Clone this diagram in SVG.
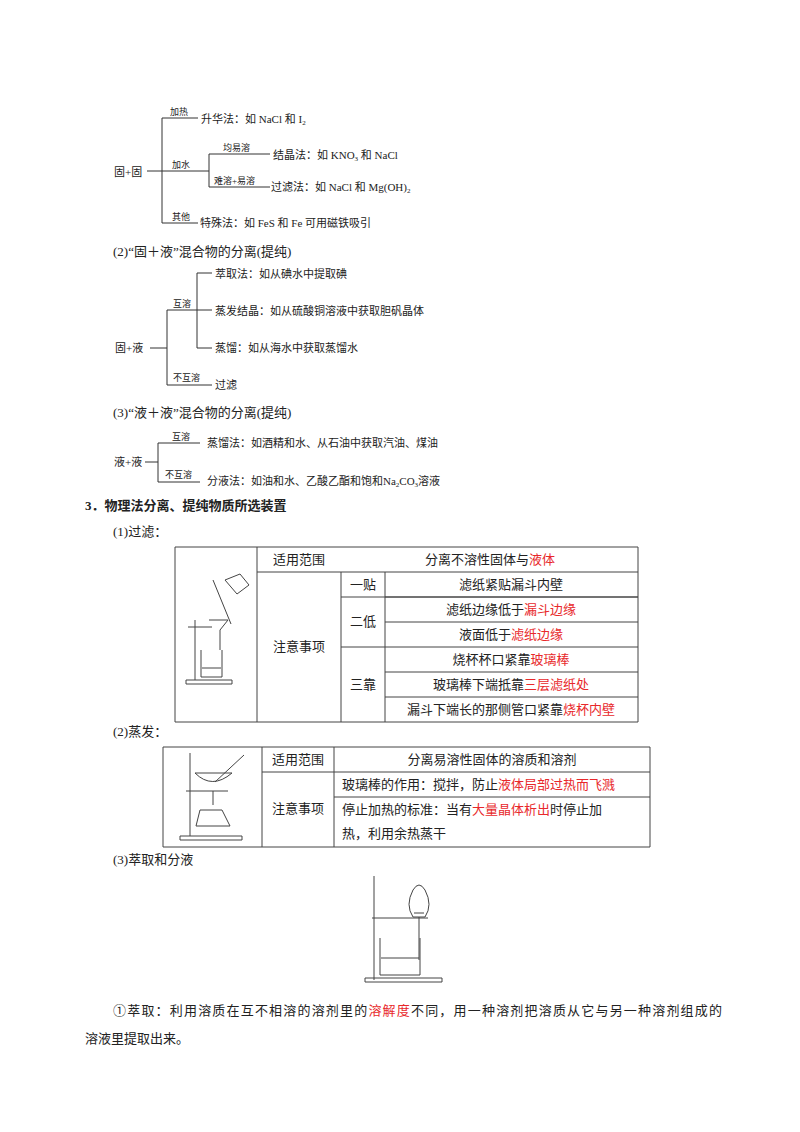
<svg xmlns="http://www.w3.org/2000/svg" width="800" height="1132" viewBox="0 0 800 1132">
<style>
text{font-family:"Liberation Serif","Noto Sans CJK SC",serif;fill:#222}
.t{font-size:11px}
.s{font-size:9px}
.h{font-size:13px}
.b{font-size:13px;font-weight:bold}
.c{font-size:13px;text-anchor:middle}
.r{fill:#e8282b}
.ln{stroke:#333;stroke-width:1;fill:none}
.tb{stroke:#444;stroke-width:1;fill:none}
.ap{stroke:#444;stroke-width:1;fill:none}
</style>
<rect width="800" height="1132" fill="#fff"/>
<g id="connectors">
<path class="ln" d="M147 171H162M162 118V223M162 118H198M162 171H209M209 154V187M209 154H270M209 187H270M162 223H198"/>
<path class="ln" d="M150 348H167M167 310V385M167 310H197M197 273V348M197 273H212M197 310H212M197 348H212M167 385H212"/>
<path class="ln" d="M145 462H158M158 443V482M158 443H200M158 482H200"/>
</g>
<g id="tree1">
<text class="t" x="114" y="176">固+固</text>
<text class="s" x="170" y="115">加热</text>
<text class="t" x="201" y="123">升华法：如 NaCl 和 I<tspan font-size="7" dy="2">2</tspan></text>
<text class="s" x="172" y="168">加水</text>
<text class="s" x="223" y="151">均易溶</text>
<text class="t" x="273" y="159">结晶法：如 KNO<tspan font-size="7" dy="2">3</tspan><tspan dy="-2"> 和 NaCl</tspan></text>
<text class="s" x="214" y="184">难溶+易溶</text>
<text class="t" x="271" y="191">过滤法：如 NaCl 和 Mg(OH)<tspan font-size="7" dy="2">2</tspan></text>
<text class="s" x="172" y="220">其他</text>
<text class="t" x="200" y="227">特殊法：如 FeS 和 Fe 可用磁铁吸引</text>
</g>
<text class="h" x="113" y="256">(2)“固＋液”混合物的分离(提纯)</text>
<g id="tree2">
<text class="t" x="115" y="352">固+液</text>
<text class="s" x="173" y="307">互溶</text>
<text class="t" x="215" y="278">萃取法：如从碘水中提取碘</text>
<text class="t" x="215" y="315">蒸发结晶：如从硫酸铜溶液中获取胆矾晶体</text>
<text class="t" x="215" y="352">蒸馏：如从海水中获取蒸馏水</text>
<text class="s" x="173" y="381">不互溶</text>
<text class="t" x="215" y="389">过滤</text>
</g>
<text class="h" x="113" y="417">(3)“液＋液”混合物的分离(提纯)</text>
<g id="tree3">
<text class="t" x="114" y="466">液+液</text>
<text class="s" x="172" y="440">互溶</text>
<text class="t" x="207" y="447">蒸馏法：如酒精和水、从石油中获取汽油、煤油</text>
<text class="s" x="165" y="478">不互溶</text>
<text class="t" x="207" y="485">分液法：如油和水、乙酸乙酯和饱和Na<tspan font-size="7" dy="2">2</tspan><tspan dy="-2">CO</tspan><tspan font-size="7" dy="2">3</tspan><tspan dy="-2">溶液</tspan></text>
</g>
<text class="b" x="85" y="510">3．物理法分离、提纯物质所选装置</text>
<text class="h" x="113" y="536">(1)过滤：</text>
<g id="table1">
<path class="tb" d="M175 547H638V722H175ZM257 547V722M341 572V722M385 572V722M257 572H638M385 597H638M341 597H638M385 622H638M341 647H638M385 672H638M385 697H638"/>
<text class="c" x="299" y="564">适用范围</text>
<text class="c" x="490" y="564">分离不溶性固体与<tspan class="r">液体</tspan></text>
<text class="c" x="299" y="651">注意事项</text>
<text class="c" x="363" y="589">一贴</text>
<text class="c" x="363" y="626">二低</text>
<text class="c" x="363" y="689">三靠</text>
<text class="c" x="511" y="589">滤纸紧贴漏斗内壁</text>
<text class="c" x="511" y="614">滤纸边缘低于<tspan class="r">漏斗边缘</tspan></text>
<text class="c" x="511" y="639">液面低于<tspan class="r">滤纸边缘</tspan></text>
<text class="c" x="511" y="664">烧杯杯口紧靠<tspan class="r">玻璃棒</tspan></text>
<text class="c" x="511" y="689">玻璃棒下端抵靠<tspan class="r">三层滤纸处</tspan></text>
<text class="c" x="511" y="714">漏斗下端长的那侧管口紧靠<tspan class="r">烧杯内壁</tspan></text>
</g>
<g id="filter-apparatus" class="ap">
<path d="M186 680H232V684H186ZM195 620V680M188 627H212M209 620H228L220 630V650"/>
<path d="M201 650V677H222V650"/>
<path d="M202 668H221"/>
<path d="M213 580L231 624"/>
<path d="M225 580L240 574L249 585L237 594Z"/>
</g>
<text class="h" x="113" y="736">(2)蒸发：</text>
<g id="table2">
<path class="tb" d="M163 747H650V847H163ZM262 747V847M334 747V847M262 772H650M334 797H650"/>
<text class="c" x="298" y="764">适用范围</text>
<text class="c" x="492" y="764">分离易溶性固体的溶质和溶剂</text>
<text class="c" x="298" y="813">注意事项</text>
<text class="h" x="342" y="789">玻璃棒的作用：搅拌，防止<tspan class="r">液体局部过热而飞溅</tspan></text>
<text class="h" x="342" y="814">停止加热的标准：当有<tspan class="r">大量晶体析出</tspan>时停止加</text>
<text class="h" x="342" y="838">热，利用余热蒸干</text>
</g>
<g id="evap-apparatus" class="ap">
<path d="M180 836H242V840H180ZM190 753V836M186 791H228M195 773Q212 790 232 773ZM213 791V805M200 810L222 810L230 826L196 826Z"/>
<path d="M215 782L244 755"/>
</g>
<text class="h" x="113" y="864">(3)萃取和分液</text>
<g id="sep-apparatus" class="ap">
<path d="M374 876V980M365 978H442V982H365ZM372 918H428M380 938V975H420V938M381 958H419M413 890Q405 905 413 917H425Q433 905 425 890Q419 880 413 890ZM419 917V960M414 913H424"/>
</g>
<text class="h" x="113" y="1015" textLength="609">①萃取：利用溶质在互不相溶的溶剂里的<tspan class="r">溶解度</tspan>不同，用一种溶剂把溶质从它与另一种溶剂组成的</text>
<text class="h" x="85" y="1043">溶液里提取出来。</text>
</svg>
